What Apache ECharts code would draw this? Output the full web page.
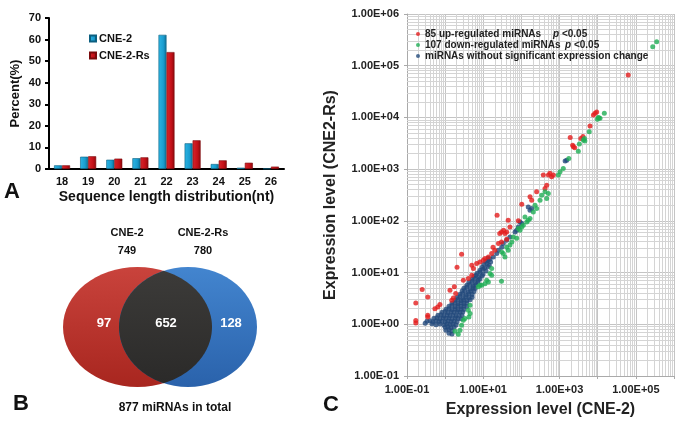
<!DOCTYPE html>
<html><head><meta charset="utf-8">
<script src="https://cdn.jsdelivr.net/npm/echarts@6/dist/echarts.min.js"></script>
<style>html,body{margin:0;padding:0;background:#fff}#c{width:683px;height:424px}</style>
</head><body><div id="c"></div>
<script>
// ---- Panel A: sequence length distribution ----
const lengthCategories = ['18','19','20','21','22','23','24','25','26'];
const pctCNE2   = [1.7, 5.7, 4.3, 5.0, 62.2, 11.9, 2.3, 0.6, 0.2];
const pctCNE2Rs = [1.7, 5.9, 4.8, 5.4, 54.2, 13.3, 4.0, 2.9, 1.1];
const barSeriesNames = ['CNE-2', 'CNE-2-Rs'];

// ---- Panel B: Venn ----
const vennSetNames = ['CNE-2', 'CNE-2-Rs'];
const vennSetTotals = [749, 780];
const vennParts = [97, 652, 128];
const vennUnion = 877;

// ---- Panel C: expression scatter [CNE-2, CNE-2-Rs] ----
const upCount = 85, downCount = 107;
const upPoints = [[63000,66000],[7700,11100],[8500,12000],[9400,12800],[6300,6800],[1900,4100],[3600,3900],[4100,4300],[2200,2900],[2500,2600],[2300,2700],
[375,770],[510,770],[620,710],[560,830],[690,770],[460,490],[415,424],[250,364],[168,291],[186,251],[102,210],[23,129],[45,103],[50,76],[30,61],[34,66],[37,57],[41,61],[27,57],[83,100],
[18,31],[20,27],[16.6,23.4],[13.6,20],[11.1,18.7],[25,36.5],[30,39],[41,44],[2.7,22.6],[2.05,12.7],[5,13.9],[6.7,15],[8.2,16.1],[10,17.3],[3.0,7.1],[4.05,7.7],[5.0,8.9],[5.5,12],
[1.34,4.55],[1.74,5.3],[1.89,3.93],[1.64,3.23],[1.49,2.92],[0.25,4.7],[0.35,3.38],[0.17,2.58],[0.54,2.0],[0.64,2.16],[0.73,2.41],[0.35,1.49],[0.35,1.39],[0.17,1.18],[0.17,1.06]];
const downPoints = [[277000,233000],[352000,291000],[14900,12000],[10400,10000],[11500,9600],[9800,9200],[10800,9800],[6000,5300],[4500,3900],[4600,3500],[4200,3650],[3300,3050],[3100,2230],
[1030,890],[1250,1030],[930,770],[1750,1600],[340,314],[415,364],[507,339],[460,271],[307,251],[227,201],[251,173],[205,149],[124,119],[151,103],[168,111],[138,95],[83,71],[92,66],[102,76],[112,82],
[61,49],[75,46],[56,39],[41,31],[45,27],[33.5,23.4],[30.4,25.1],[37,20],[16.6,8.9],[30,6.8],[7.4,5.3],[9.1,5.7],[11.1,6.1],[12.3,7.1],[15,9.6],[16.6,12],
[1.82,0.73],[2.21,0.64],[2.45,0.77],[2.7,0.96],[3.0,1.2],[3.3,1.29],[4.05,1.87],[4.5,1.61],[4.2,1.39],[4.5,2.33],[8.2,5.7],[13.6,6.6],[50,34]];
const nsPoints = [[1540,1490],[1400,1430],[151,186],[186,173],[168,161],[92,95],[102,89],[83,76],[75,66],[68,61],[50,49],[41,42],[33.5,36.5],[30.4,31],[24.8,27],[22.5,23.4],[18.3,20.1],
[13.3,19.0],[15.0,18.4],[11.8,16.6],[13.3,17.2],[15.6,16.0],[10.4,14.5],[12.4,15.0],[14.3,13.9],[9.3,12.7],[10.9,12.2],[13.3,13.0],[8.2,11.1],[9.8,11.6],[11.8,10.7],
[6.9,9.7],[8.2,10.1],[9.8,9.3],[5.7,8.5],[6.4,8.9],[7.6,8.2],[9.3,8.7],[5.1,7.4],[6.1,7.7],[7.3,7.1],[8.2,7.6],[4.2,6.5],[5.1,6.8],[6.1,6.3],[7.3,6.6],
[3.7,5.7],[4.5,5.9],[5.4,5.5],[6.4,5.8],[3.1,4.98],[3.7,5.2],[4.5,4.8],[5.4,5.1],[6.1,4.9],[2.8,4.4],[3.3,4.5],[4.0,4.2],[4.8,4.4],[5.7,4.3],
[2.45,3.8],[2.9,3.95],[3.5,3.7],[4.2,3.9],[5.1,3.75],[2.05,3.3],[2.45,3.45],[2.9,3.2],[3.5,3.4],[4.2,3.25],[5.1,3.35],
[1.82,2.92],[2.17,3.0],[2.6,2.85],[3.1,2.95],[3.7,2.88],[4.5,2.98],[1.51,2.55],[1.82,2.62],[2.17,2.5],[2.6,2.6],[3.1,2.52],[3.7,2.58],
[1.26,2.23],[1.51,2.3],[1.82,2.18],[2.17,2.27],[2.6,2.2],[3.1,2.25],[3.7,2.2],[1.05,1.95],[1.26,2.0],[1.51,1.92],[1.82,1.98],[2.17,1.9],[2.6,1.97],[3.1,1.93],
[0.83,1.71],[1.0,1.76],[1.19,1.68],[1.42,1.74],[1.71,1.69],[2.05,1.75],[2.45,1.7],[2.9,1.72],
[0.65,1.49],[0.78,1.53],[0.93,1.46],[1.12,1.52],[1.34,1.47],[1.6,1.51],[1.93,1.45],[2.3,1.5],[2.77,1.48],
[0.51,1.31],[0.61,1.34],[0.73,1.28],[0.88,1.33],[1.05,1.29],[1.26,1.32],[1.51,1.27],[1.82,1.33],[2.17,1.3],[2.6,1.28],
[0.335,1.14],[0.40,1.17],[0.48,1.12],[0.575,1.16],[0.69,1.13],[0.83,1.15],[1.0,1.11],[1.19,1.16],[1.42,1.13],[1.71,1.15],[2.05,1.12],
[0.3,1.05],[0.45,1.02],[0.575,0.98],[0.73,1.01],[0.93,0.97],[1.12,1.02],[1.34,0.99],[1.6,1.01],[1.93,0.97],
[1.0,0.875],[1.19,0.9],[1.42,0.86],[1.71,0.89],[1.05,0.765],[1.26,0.79],[1.51,0.75],[1.26,0.67],[1.51,0.65]];
const scatterNames = [upCount + ' up-regulated miRNAs', downCount + ' down-regulated miRNAs', 'miRNAs without significant expression change'];
const pThreshold = '<0.05';
const axisNameX = 'Expression level (CNE-2)';
const axisNameY = 'Expression level (CNE2-Rs)';

const FONT = 'Liberation Sans, Arial, Helvetica, sans-serif';
const chart = echarts.init(document.getElementById('c'), null, {renderer:'canvas'});

// minor log grid positions (2..9 in each decade)
const minorX = [], minorY = [];
for (let e = -1; e < 6; e++) for (let k = 2; k <= 9; k++) { const v = k * Math.pow(10, e); minorX.push({xAxis: v}); minorY.push({yAxis: v}); }

function sci(v){ const e = Math.round(Math.log10(v)); return '1.00E' + (e < 0 ? '-' : '+') + String(Math.abs(e)).padStart(2,'0'); }

// Venn geometry
const cyV = 327, ryV = 60, cxR = 137.5, rxR = 74.5, cxB = 188, rxB = 69;
const sCross = (cxB - cxR) / (rxB + rxR), uMax = Math.sqrt(1 - sCross*sCross);
const lens = [];
for (let i = 0; i <= 60; i++) { const u = -uMax + 2*uMax*i/60, s = Math.sqrt(1-u*u); lens.push([cxR + rxR*s, cyV + ryV*u]); }
for (let i = 60; i >= 0; i--) { const u = -uMax + 2*uMax*i/60, s = Math.sqrt(1-u*u); lens.push([cxB - rxB*s, cyV + ryV*u]); }
const LG = echarts.graphic.LinearGradient;

function txt(t, x, y, size, color, align){ return {type:'text', x:x, y:y, z:10, style:{text:t, fill:color||'#111', font:'bold '+size+'px '+FONT, textAlign:align||'center', textVerticalAlign:'middle'}}; }

const option = {
  animation:false,
  textStyle:{fontFamily:FONT},
  grid:[{left:49, top:18, width:235, height:151},{left:407, top:14, width:267, height:362}],
  legend:[
    {data:barSeriesNames, left:84, top:28, orient:'vertical', itemGap:6, itemWidth:6, itemHeight:6, icon:'rect',
     textStyle:{fontSize:11, fontWeight:'bold', color:'#111', padding:[0,0,0,-2]}},
    {data:scatterNames, left:411, top:24, orient:'vertical', itemGap:1, itemWidth:4, itemHeight:4, icon:'circle', z:10,
     textStyle:{fontSize:10, fontWeight:'bold', color:'#222',
       rich:{n1:{width:128, fontSize:10, fontWeight:'bold', color:'#222'}, n2:{width:140, fontSize:10, fontWeight:'bold', color:'#222'},
             n3:{fontSize:10, fontWeight:'bold', color:'#222'}, i:{fontStyle:'italic', fontWeight:'bold', fontSize:10, color:'#222'}, t:{fontSize:10, fontWeight:'bold', color:'#222'}}},
     formatter:function(name){ const idx = scatterNames.indexOf(name); if (idx === 2) return '{n3|' + name + '}'; return '{n' + (idx+1) + '|' + name + '}{i|p} {t|' + pThreshold + '}'; }}
  ],
  xAxis:[
    {type:'category', gridIndex:0, data:lengthCategories, name:'Sequence length distribution(nt)', nameLocation:'middle', nameGap:21,
     nameTextStyle:{fontSize:14, fontWeight:'bold', color:'#111'},
     axisLine:{lineStyle:{color:'#000', width:2}}, axisTick:{length:4, lineStyle:{color:'#000', width:2}},
     axisLabel:{fontSize:11, fontWeight:'bold', color:'#111', margin:7}},
    {type:'log', gridIndex:1, logBase:10, min:0.1, max:1e6, splitNumber:7, name:axisNameX, nameLocation:'middle', nameGap:26,
     nameTextStyle:{fontSize:16, fontWeight:'bold', color:'#222'},
     axisLine:{lineStyle:{color:'#aaa', width:1}}, axisTick:{show:true, length:3, lineStyle:{color:'#aaa'}},
     splitLine:{show:true, lineStyle:{color:'#c4c4c4', width:1}},
     axisLabel:{fontSize:11, fontWeight:'bold', color:'#222', margin:8, formatter:function(v){ const e = Math.round(Math.log10(v)); return (Math.abs(e) % 2 === 1) ? sci(v) : ''; }}}
  ],
  yAxis:[
    {type:'value', gridIndex:0, min:0, max:70, interval:10, name:'Percent(%)', nameLocation:'middle', nameGap:27,
     nameTextStyle:{fontSize:13, fontWeight:'bold', color:'#111'},
     axisLine:{show:true, lineStyle:{color:'#000', width:2}}, axisTick:{show:true, length:4, lineStyle:{color:'#000', width:2}},
     splitLine:{show:false}, axisLabel:{fontSize:11, fontWeight:'bold', color:'#111', margin:8}},
    {type:'log', gridIndex:1, logBase:10, min:0.1, max:1e6, splitNumber:7, name:axisNameY, nameLocation:'middle', nameGap:68,
     nameTextStyle:{fontSize:16, fontWeight:'bold', color:'#222'},
     axisLine:{show:true, lineStyle:{color:'#aaa', width:1}}, axisTick:{show:true, length:3, lineStyle:{color:'#aaa'}},
     splitLine:{show:true, lineStyle:{color:'#c4c4c4', width:1}},
     axisLabel:{fontSize:11, fontWeight:'bold', color:'#222', margin:8, formatter:sci}}
  ],
  series:[
    {type:'bar', name:barSeriesNames[0], xAxisIndex:0, yAxisIndex:0, data:pctCNE2, barWidth:8, barGap:'0%',
     itemStyle:{color:new LG(0,0,1,0,[{offset:0,color:'#2cb4e4'},{offset:0.6,color:'#1a9dd0'},{offset:1,color:'#0e6f96'}]), borderColor:'#0b5f80', borderWidth:0.6}},
    {type:'bar', name:barSeriesNames[1], xAxisIndex:0, yAxisIndex:0, data:pctCNE2Rs, barWidth:8, barGap:'0%',
     itemStyle:{color:new LG(0,0,1,0,[{offset:0,color:'#d8262c'},{offset:0.6,color:'#c41018'},{offset:1,color:'#8c0a0e'}]), borderColor:'#7a0a0c', borderWidth:0.6}},
    {type:'scatter', name:'grid', xAxisIndex:1, yAxisIndex:1, data:[], z:1, zlevel:0, silent:true,
     markLine:{silent:true, z:1, symbol:'none', animation:false, label:{show:false}, emphasis:{disabled:true}, lineStyle:{color:'#d4d4d4', type:'solid', width:1}, data:minorX.concat(minorY)}},
    {type:'scatter', name:scatterNames[0], xAxisIndex:1, yAxisIndex:1, data:upPoints, symbolSize:5, z:6, itemStyle:{color:'#e41d1d'}},
    {type:'scatter', name:scatterNames[1], xAxisIndex:1, yAxisIndex:1, data:downPoints, symbolSize:5, z:6, itemStyle:{color:'#1fae55'}},
    {type:'scatter', name:scatterNames[2], xAxisIndex:1, yAxisIndex:1, data:nsPoints, symbolSize:5, z:5, itemStyle:{color:'#234a7c'}}
  ],
  graphic:[
    {type:'ellipse', shape:{cx:cxR, cy:cyV, rx:rxR, ry:ryV}, z:1, style:{fill:new LG(0,0,0,1,[{offset:0,color:'#c9433c'},{offset:1,color:'#a8261f'}])}},
    {type:'ellipse', shape:{cx:cxB, cy:cyV, rx:rxB, ry:ryV}, z:1, style:{fill:new LG(0,0,0,1,[{offset:0,color:'#4385cf'},{offset:1,color:'#2a62ab'}])}},
    {type:'polygon', shape:{points:lens}, z:2, style:{fill:new LG(0,0,0,1,[{offset:0,color:'#3c3b39'},{offset:1,color:'#2b2a29'}])}},
    txt(vennSetNames[0], 127, 233, 11), txt(String(vennSetTotals[0]), 127, 251, 11),
    txt(vennSetNames[1], 203, 233, 11), txt(String(vennSetTotals[1]), 203, 251, 11),
    txt(String(vennParts[0]), 104, 323, 13, '#fff'), txt(String(vennParts[1]), 166, 323, 13, '#fff'), txt(String(vennParts[2]), 231, 323, 13, '#fff'),
    txt(vennUnion + ' miRNAs in total', 175, 408, 12),
    txt('A', 12, 192, 22), txt('B', 21, 404, 22), txt('C', 331, 405, 22)
  ]
};
chart.setOption(option);
</script></body></html>
